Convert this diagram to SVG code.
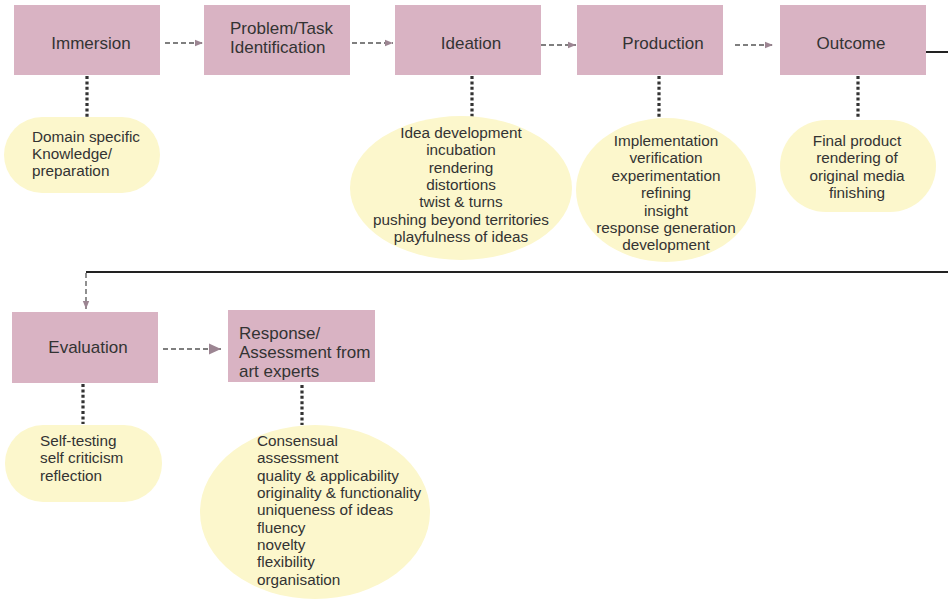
<svg xmlns="http://www.w3.org/2000/svg" width="948" height="599" viewBox="0 0 948 599">
<defs>
<style>
.box{fill:#d9b3c3;}
.bub{fill:#fcf7cc;}
.t{font-family:"Liberation Sans",Arial,sans-serif;fill:#333333;}
.bt{font-size:17px;}
.et{font-size:15.3px;}
.c{text-anchor:middle;}
.dot{stroke:#333333;stroke-width:3.2;stroke-dasharray:3,2.4;fill:none;}
.dash{stroke:#555555;stroke-width:1.3;stroke-dasharray:5,3;fill:none;}
.solid{stroke:#222222;stroke-width:2;fill:none;}
</style>
<marker id="ah" viewBox="0 0 10 10" refX="10" refY="5" markerWidth="12" markerHeight="8" markerUnits="userSpaceOnUse" orient="auto">
<path d="M0,1 L10,5 L0,9 Z" fill="#9c8592"/>
</marker>
<marker id="ahL" viewBox="0 0 10 10" refX="10" refY="5" markerWidth="16" markerHeight="12" markerUnits="userSpaceOnUse" orient="auto">
<path d="M0,0.5 L10,5 L0,9.5 Z" fill="#9c8592"/>
</marker>
</defs>

<g id="connectors">
<line class="dash" x1="165" y1="43" x2="203" y2="43" marker-end="url(#ah)"/>
<line class="dash" x1="352" y1="43" x2="393" y2="43" marker-end="url(#ah)"/>
<line class="dash" x1="541" y1="45" x2="576" y2="45" marker-end="url(#ah)"/>
<line class="dash" x1="735" y1="45" x2="773" y2="45" marker-end="url(#ah)"/>
<polyline class="solid" points="926,52 948,52"/>
<polyline class="solid" points="948,272 86,272"/>
<line class="dash" x1="86" y1="273" x2="86" y2="309" marker-end="url(#ah)"/>
<line class="dash" x1="163" y1="349" x2="221" y2="349" marker-end="url(#ahL)"/>
<line class="dot" x1="87" y1="76" x2="87" y2="117"/>
<line class="dot" x1="472" y1="76" x2="472" y2="117"/>
<line class="dot" x1="659" y1="76" x2="659" y2="118"/>
<line class="dot" x1="858" y1="76" x2="858" y2="118"/>
<line class="dot" x1="83" y1="384" x2="83" y2="424"/>
<line class="dot" x1="302" y1="385" x2="302" y2="425"/>
</g>

<g id="immersion">
<rect class="box" x="14" y="5" width="146" height="70"/>
<text class="t bt c" x="91" y="49">Immersion</text>
</g>
<g id="problem">
<rect class="box" x="204" y="5" width="146" height="70"/>
<text class="t bt" x="230" y="34">Problem/Task</text>
<text class="t bt" x="230" y="53">Identification</text>
</g>
<g id="ideation">
<rect class="box" x="395" y="5" width="146" height="70"/>
<text class="t bt c" x="471" y="49">Ideation</text>
</g>
<g id="production">
<rect class="box" x="577" y="5" width="146" height="70"/>
<text class="t bt c" x="663" y="49">Production</text>
</g>
<g id="outcome">
<rect class="box" x="780" y="5" width="146" height="70"/>
<text class="t bt c" x="851" y="49">Outcome</text>
</g>
<g id="evaluation">
<rect class="box" x="12" y="312" width="146" height="71"/>
<text class="t bt c" x="88" y="353">Evaluation</text>
</g>
<g id="response">
<rect class="box" x="228" y="310" width="147" height="72"/>
<text class="t bt" x="239" y="339">Response/</text>
<text class="t bt" x="239" y="358">Assessment from</text>
<text class="t bt" x="239" y="377">art experts</text>
</g>

<g id="immersion-notes">
<rect class="bub" x="4" y="117" width="156" height="76" rx="38" ry="38"/>
<text class="t et" x="32" y="142">Domain specific</text>
<text class="t et" x="32" y="159">Knowledge/</text>
<text class="t et" x="32" y="176">preparation</text>
</g>
<g id="ideation-notes">
<ellipse class="bub" cx="461" cy="188" rx="111" ry="72"/>
<text class="t et c" x="461" y="138">Idea development</text>
<text class="t et c" x="461" y="155">incubation</text>
<text class="t et c" x="461" y="173">rendering</text>
<text class="t et c" x="461" y="190">distortions</text>
<text class="t et c" x="461" y="207">twist &amp; turns</text>
<text class="t et c" x="461" y="225">pushing beyond territories</text>
<text class="t et c" x="461" y="242">playfulness of ideas</text>
</g>
<g id="production-notes">
<ellipse class="bub" cx="666" cy="190" rx="90" ry="72"/>
<text class="t et c" x="666" y="146">Implementation</text>
<text class="t et c" x="666" y="163">verification</text>
<text class="t et c" x="666" y="181">experimentation</text>
<text class="t et c" x="666" y="198">refining</text>
<text class="t et c" x="666" y="216">insight</text>
<text class="t et c" x="666" y="233">response generation</text>
<text class="t et c" x="666" y="250">development</text>
</g>
<g id="outcome-notes">
<rect class="bub" x="780" y="120" width="156" height="92" rx="46" ry="46"/>
<text class="t et c" x="857" y="146">Final product</text>
<text class="t et c" x="857" y="163">rendering of</text>
<text class="t et c" x="857" y="181">original media</text>
<text class="t et c" x="857" y="198">finishing</text>
</g>
<g id="evaluation-notes">
<rect class="bub" x="5" y="425" width="157" height="77" rx="38" ry="38"/>
<text class="t et" x="40" y="446">Self-testing</text>
<text class="t et" x="40" y="463">self criticism</text>
<text class="t et" x="40" y="481">reflection</text>
</g>
<g id="response-notes">
<ellipse class="bub" cx="315" cy="512" rx="115" ry="87"/>
<text class="t et" x="257" y="446">Consensual</text>
<text class="t et" x="257" y="463">assessment</text>
<text class="t et" x="257" y="481">quality &amp; applicability</text>
<text class="t et" x="257" y="498">originality &amp; functionality</text>
<text class="t et" x="257" y="515">uniqueness of ideas</text>
<text class="t et" x="257" y="533">fluency</text>
<text class="t et" x="257" y="550">novelty</text>
<text class="t et" x="257" y="567">flexibility</text>
<text class="t et" x="257" y="585">organisation</text>
</g>
</svg>
